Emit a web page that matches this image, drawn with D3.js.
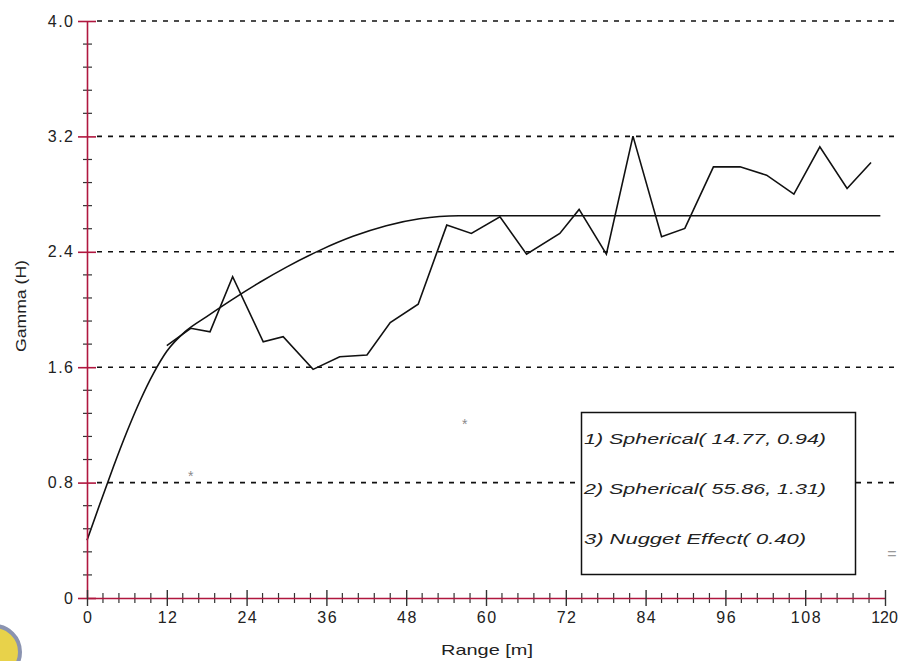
<!DOCTYPE html>
<html>
<head>
<meta charset="utf-8">
<script src="https://cdn.jsdelivr.net/npm/d3@7"></script>
<style>
  html, body { margin: 0; padding: 0; background: #fff; }
  svg { display: block; font-family: "Liberation Sans", Arial, sans-serif; }
</style>
</head>
<body>
<svg id="chart" width="900" height="661"></svg>
<script>
// ---- data ----
const xTickValues = [0, 12, 24, 36, 48, 60, 72, 84, 96, 108, 120];
const yTickValues = [0, 0.8, 1.6, 2.4, 3.2, 4.0];
const yTickLabels = ["0", "0.8", "1.6", "2.4", "3.2", "4.0"];
const gridValues = [0.8, 1.6, 2.4, 3.2, 4.0];

// experimental variogram
const expLag   = [12.0, 15.6, 18.5, 21.9, 26.5, 29.5, 34.0, 38.0, 42.1, 45.6, 49.8, 54.1, 57.8, 62.1, 66.1, 71.1, 74.0, 78.1, 82.1, 86.4, 89.9, 94.2, 98.2, 102.2, 106.3, 110.2, 114.3, 117.9];
const expGamma = [1.75, 1.87, 1.845, 2.227, 1.776, 1.811, 1.585, 1.672, 1.684, 1.91, 2.037, 2.585, 2.527, 2.642, 2.384, 2.527, 2.694, 2.384, 3.202, 2.504, 2.562, 2.989, 2.989, 2.931, 2.800, 3.128, 2.839, 3.019];

// fitted model curve
const modelLag   = [0, 2, 4, 6, 8, 10, 12, 14.8, 18, 22, 26, 30, 35, 40, 45, 50, 55.9, 119.3];
const modelGamma = [0.40, 0.66, 0.913, 1.152, 1.369, 1.557, 1.71, 1.848, 1.951, 2.074, 2.189, 2.294, 2.41, 2.507, 2.581, 2.629, 2.65, 2.65];

const legendLines = ["1) Spherical( 14.77, 0.94)", "2) Spherical( 55.86, 1.31)", "3) Nugget Effect( 0.40)"];
const legendWidths = [242, 242, 222];
const starLag = [15.6, 56.8];
const starGamma = [0.86, 1.22];

// ---- layout ----
const svg = d3.select("#chart");
const x = d3.scaleLinear().domain([0, 120]).range([87, 885]);
const y = d3.scaleLinear().domain([0, 4]).range([598, 21]);
const axisColor = "#b0173f";
const FONT = "Liberation Sans, Arial, sans-serif";

// dashed grid lines
svg.append("g").selectAll("line").data(gridValues).join("line")
  .attr("x1", 97).attr("x2", 900)
  .attr("y1", d => y(d)).attr("y2", d => y(d))
  .attr("stroke", "#111").attr("stroke-width", 1.6)
  .attr("stroke-dasharray", "5,6");

// star markers
svg.append("g").selectAll("text").data(starLag).join("text")
  .attr("x", d => x(d)).attr("y", (d, i) => y(starGamma[i]) + 7)
  .attr("text-anchor", "middle").attr("font-size", 14).attr("fill", "#8a8a8a")
  .text("*");

// model curve
const modelPts = modelLag.map((h, i) => [h, modelGamma[i]]);
svg.append("path")
  .datum(modelPts)
  .attr("d", d3.line().x(d => x(d[0])).y(d => y(d[1])).curve(d3.curveMonotoneX))
  .attr("fill", "none").attr("stroke", "#111").attr("stroke-width", 1.6);

// experimental
const expPts = expLag.map((h, i) => [h, expGamma[i]]);
svg.append("path")
  .datum(expPts)
  .attr("d", d3.line().x(d => x(d[0])).y(d => y(d[1])))
  .attr("fill", "none").attr("stroke", "#111").attr("stroke-width", 1.6);

// minor ticks
const yMinor = d3.range(0, 4.0001, 0.16).filter(v => !yTickValues.some(t => Math.abs(t - v) < 1e-6));
const xMinor = d3.range(0, 120.0001, 2.4).filter(v => !xTickValues.some(t => Math.abs(t - v) < 1e-6));
svg.append("g").selectAll("line").data(yMinor).join("line")
  .attr("x1", 83).attr("x2", 92)
  .attr("y1", d => y(d)).attr("y2", d => y(d))
  .attr("stroke", "#333").attr("stroke-width", 1.2);
svg.append("g").selectAll("line").data(xMinor).join("line")
  .attr("y1", 593).attr("y2", 603)
  .attr("x1", d => x(d)).attr("x2", d => x(d))
  .attr("stroke", "#333").attr("stroke-width", 1.2);

// Y axis
const yAxis = svg.append("g").attr("transform", "translate(87,0)")
  .call(d3.axisLeft(y).tickValues(yTickValues).tickFormat((d, i) => yTickLabels[i]).tickSize(9).tickSizeOuter(0).tickPadding(5));
yAxis.select(".domain").attr("stroke", axisColor).attr("stroke-width", 1.6);
yAxis.selectAll(".tick line").attr("x1", -9).attr("x2", 9).attr("stroke", axisColor).attr("stroke-width", 1.6);
yAxis.selectAll(".tick text")
  .attr("font-size", 16).attr("fill", "#222").attr("font-family", FONT)
  .attr("letter-spacing", 1.5).attr("dx", 1.5);

// X axis
const xAxis = svg.append("g").attr("transform", "translate(0,598)")
  .call(d3.axisBottom(x).tickValues(xTickValues).tickFormat(d3.format("d")).tickSize(8).tickSizeOuter(0).tickPadding(6));
xAxis.select(".domain").attr("stroke", axisColor).attr("stroke-width", 1.6);
xAxis.selectAll(".tick line").attr("y1", -8).attr("y2", 8).attr("stroke", "#333").attr("stroke-width", 1.4);
xAxis.selectAll(".tick text")
  .attr("font-size", 16).attr("fill", "#222").attr("font-family", FONT)
  .attr("letter-spacing", d => d === 120 ? 0 : 1.5)
  .attr("dx", d => d === 120 ? -1 : 0.75);

// axis titles
svg.append("text").attr("x", 487).attr("y", 655).attr("text-anchor", "middle")
  .attr("font-size", 15).attr("fill", "#222")
  .attr("textLength", 92).attr("lengthAdjust", "spacingAndGlyphs").text("Range [m]");
svg.append("text").attr("transform", "translate(26,306) rotate(-90)").attr("text-anchor", "middle")
  .attr("font-size", 14).attr("fill", "#222")
  .attr("textLength", 92).attr("lengthAdjust", "spacingAndGlyphs").text("Gamma (H)");

// legend box
svg.append("rect").attr("x", 581.5).attr("y", 412.5).attr("width", 274).attr("height", 162)
  .attr("fill", "#fff").attr("stroke", "#111").attr("stroke-width", 1.5);
svg.append("g").selectAll("text").data(legendLines).join("text")
  .attr("x", 584).attr("y", (d, i) => 444 + i * 50)
  .attr("font-size", 15).attr("font-style", "italic").attr("fill", "#222")
  .attr("textLength", (d, i) => legendWidths[i]).attr("lengthAdjust", "spacingAndGlyphs")
  .text(d => d);

// small mark on right edge
svg.append("text").attr("x", 892).attr("y", 559).attr("text-anchor", "middle")
  .attr("font-size", 16).attr("fill", "#999").text("=");

// partial logo in the lower-left corner
svg.append("circle").attr("cx", -6).attr("cy", 652).attr("r", 26)
  .attr("fill", "#e8d24a").attr("stroke", "#8a93b0").attr("stroke-width", 4);
</script>
</body>
</html>
